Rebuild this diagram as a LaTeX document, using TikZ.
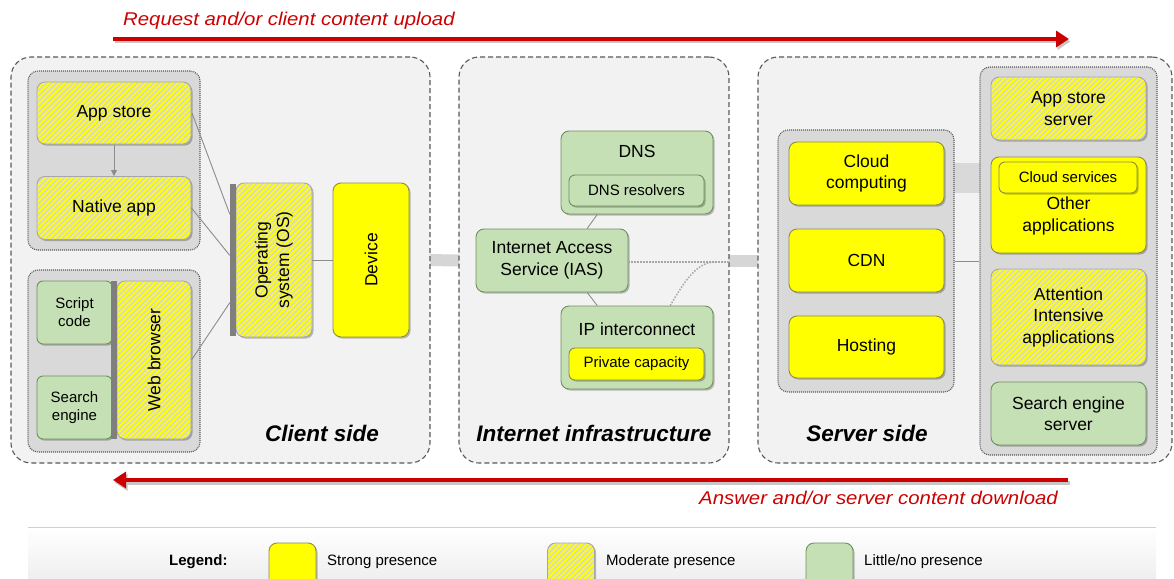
\documentclass[tikz,border=0pt]{standalone}
\usepackage{fontspec}
\setmainfont{Liberation Sans}
\newfontfamily\arrowfont{Liberation Sans}[FakeStretch=1.1]
\usetikzlibrary{arrows.meta,shadows,patterns.meta,calc}
\definecolor{ylw}{HTML}{FFFF00}
\definecolor{ylwb}{HTML}{8C8C46}
\definecolor{grn}{HTML}{C5E0B4}
\definecolor{grnb}{HTML}{70905E}
\definecolor{hbg}{HTML}{D6D6D6}
\definecolor{hbd}{HTML}{A6A6A6}
\definecolor{panelbg}{HTML}{F2F2F2}
\definecolor{grpbg}{HTML}{D9D9D9}
\definecolor{bord}{HTML}{595959}
\definecolor{bandc}{HTML}{D6D6D6}
\definecolor{redc}{HTML}{CC0000}
\definecolor{linec}{HTML}{8C8C8C}
\definecolor{barc}{HTML}{7F7F7F}
\definecolor{dotc}{HTML}{A6A6A6}
\definecolor{legline}{HTML}{D0D0D0}
\definecolor{legbg}{HTML}{EFEFEF}
\pgfdeclarelayer{bandl}
\pgfdeclarelayer{panell}
\pgfdeclarelayer{groupl}
\pgfsetlayers{bandl,panell,groupl,main}
\tikzset{
  base/.style={rounded corners=8pt, inner sep=0pt, align=center,
    font=\fontsize{17.5}{21.5}\selectfont,
    drop shadow={shadow xshift=1.6pt, shadow yshift=-1.6pt, fill=black, opacity=0.25}},
  strong/.style={base, fill=ylw, draw=ylwb, line width=0.9pt},
  moderate/.style={base, draw=hbd, line width=0.9pt, preaction={fill=hbg},
    pattern={Lines[angle=45,distance=3.8pt,line width=2pt]}, pattern color=ylw},
  little/.style={base, fill=grn, draw=grnb, line width=0.9pt},
  small/.style={font=\fontsize{15}{18}\selectfont, rounded corners=6pt},
  lbl/.style={font=\fontsize{17.5}{21.5}\selectfont, align=center, inner sep=0pt},
  panel/.style={draw=bord, dash pattern=on 5pt off 3pt, fill=panelbg, rounded corners=20pt, line width=1.1pt, inner sep=0pt},
  group/.style={draw=bord, dash pattern=on 1pt off 1pt, line width=1.1pt, fill=grpbg, rounded corners=10pt, inner sep=0pt},
  conn/.style={draw=linec, line width=0.9pt},
  band/.style={draw=bandc, line width=12pt},
  bar/.style={fill=barc, draw=none, inner sep=0pt},
  title/.style={font=\fontsize{22.5}{27}\selectfont\bfseries\itshape, inner sep=0pt},
  dotline/.style={draw=dotc, line width=1.5pt, dash pattern=on 1.5pt off 1.5pt},
  redarrow/.style={draw=redc, line width=4pt, -{Triangle[length=13pt,width=16pt]}},
  redshadow/.style={draw=black!22, line width=4pt, -{Triangle[length=13pt,width=16pt]},
    transform canvas={xshift=1.5pt, yshift=-2.5pt}},
  arrowlbl/.style={font=\fontsize{18.5}{22}\arrowfont\itshape, text=redc, inner sep=0pt},
  legtxt/.style={font=\fontsize{15}{18}\selectfont, inner sep=0pt, anchor=west},
}
\begin{document}
\begin{tikzpicture}[x=1pt,y=-1pt]
\useasboundingbox (0,0) rectangle (1174,578);
\clip (0,0) rectangle (1174,578);

% ---------- client side ----------
\node[moderate, minimum width=154pt, minimum height=62pt] (appstore) at (114,113) {App store};
\node[moderate, minimum width=154pt, minimum height=63pt] (nativeapp) at (114,208) {Native app};
\node[little, small, minimum width=75pt, minimum height=63pt] (script) at (74.5,312.5) {Script\\code};
\node[little, small, minimum width=75pt, minimum height=63pt] (search) at (74.5,407.5) {Search\\engine};
\node[moderate, minimum width=74pt, minimum height=158pt] (webbrowser) at (154,360) {\rotatebox{90}{Web browser}};
\node[bar, minimum width=6pt, minimum height=158pt] (wbbar) at (114,360) {};
\node[moderate, minimum width=76pt, minimum height=154pt] (os) at (274,260)
  {\rotatebox{90}{\begin{tabular}{@{}c@{}}Operating\\system (OS)\end{tabular}}};
\node[bar, minimum width=6pt, minimum height=152pt] (osbar) at (233,260) {};
\node[strong, minimum width=76pt, minimum height=154pt] (device) at (371,260) {\rotatebox{90}{Device}};
\node[title] (clienttitle) at (322,433) {Client side};

% ---------- internet infrastructure ----------
\node[little, minimum width=152pt, minimum height=83pt,
  label={[lbl, anchor=center, yshift=-21pt]north:DNS}] (dns) at (637,172.5) {};
\node[little, small, minimum width=135pt, minimum height=31pt] (dnsres) at (636.5,190.5) {DNS resolvers};
\node[little, minimum width=152pt, minimum height=63pt] (ias) at (552,260.5) {Internet Access\\Service (IAS)};
\node[little, minimum width=152pt, minimum height=83pt,
  label={[lbl, anchor=center, yshift=-24pt]north:IP interconnect}] (ipx) at (637,347.5) {};
\node[strong, small, minimum width=135pt, minimum height=32pt] (private) at (636.5,364) {Private capacity};
\node[title] (inettitle) at (594,433) {Internet infrastructure};

% ---------- server side ----------
\node[strong, minimum width=155pt, minimum height=63pt] (cloud) at (866.5,173.5) {Cloud\\computing};
\node[strong, minimum width=155pt, minimum height=63pt] (cdn) at (866.5,260.5) {CDN};
\node[strong, minimum width=155pt, minimum height=62pt] (hosting) at (866.5,347) {Hosting};
\node[moderate, minimum width=155pt, minimum height=63pt] (appserver) at (1068.5,108.5) {App store\\server};
\node[strong, minimum width=155pt, minimum height=96pt,
  label={[lbl, anchor=center, yshift=-11pt]center:Other\\applications}] (otherapps) at (1068.5,205) {};
\node[strong, small, minimum width=138pt, minimum height=31pt] (cloudsvc) at (1068,177.5) {Cloud services};
\node[moderate, minimum width=155pt, minimum height=96pt] (attention) at (1068.5,317) {Attention\\Intensive\\applications};
\node[little, minimum width=155pt, minimum height=63pt] (searchsrv) at (1068.5,413.5) {Search engine\\server};
\node[title] (servertitle) at (867,433) {Server side};

% ---------- panels and groups ----------
\begin{pgfonlayer}{panell}
  \node[panel, minimum width=419pt, minimum height=406pt] (clientpanel) at (220.5,260) {};
  \node[panel, minimum width=270pt, minimum height=406pt] (inetpanel) at (594,260) {};
  \node[panel, minimum width=414pt, minimum height=406pt] (serverpanel) at (965,260) {};
  \draw[draw=grpbg, line width=30pt] (cloud.east |- cloudsvc.center) -- (otherapps.west |- cloudsvc.center);
\end{pgfonlayer}
\begin{pgfonlayer}{groupl}
  \node[group, minimum width=172pt, minimum height=179pt] (grp1) at (114,160.5) {};
  \node[group, minimum width=172pt, minimum height=182pt] (grp2) at (114,361) {};
  \node[group, minimum width=176pt, minimum height=262pt] (grpL) at (866,261) {};
  \node[group, minimum width=177pt, minimum height=388pt] (grpR) at (1068.5,261) {};
\end{pgfonlayer}
\begin{pgfonlayer}{bandl}
  \draw[band] (device.east) -- (ias.west);
  \draw[band] (ias.east) -- (cdn.west);
\end{pgfonlayer}

% ---------- connectors ----------
\draw[conn] (appstore.east) -- ($(osbar.north west)!0.2!(osbar.south west)$);
\draw[conn] (nativeapp.east) -- ($(osbar.north west)!0.47!(osbar.south west)$);
\draw[conn] (webbrowser.east) -- ($(osbar.north west)!0.78!(osbar.south west)$);
\draw[conn, -{Triangle[length=6pt,width=6pt]}] (appstore.south) -- (nativeapp.north);
\draw[conn] (os.east) -- (device.west);
\draw[conn] ($(dns.south west)!0.24!(dns.south east)$) -- ($(ias.north west)!0.73!(ias.north east)$);
\draw[conn] ($(ias.south west)!0.73!(ias.south east)$) -- ($(ipx.north west)!0.24!(ipx.north east)$);
\coordinate (inetout) at (729,262);
\draw[dotline] (ias.east |- inetout) -- (inetout);
\draw[dotline] ($(ipx.north west)!0.717!(ipx.north east)$) .. controls (682,286) and (695,262) .. (715,262);
\draw[conn] (grpL.east) -- (grpR.west);

% ---------- red arrows ----------
\coordinate (upL) at (113,39);
\coordinate (upR) at (1069,39);
\coordinate (dnR) at (1068,480);
\coordinate (dnL) at (113,480);
\draw[redshadow] (upL) -- (upR);
\draw[redshadow] (dnR) -- (dnL);
\draw[redarrow] (upL) -- (upR);
\draw[redarrow] (dnR) -- (dnL);
\node[arrowlbl, anchor=west] (req) at (123,21) {Request and/or client content upload};
\node[arrowlbl, anchor=east] (ans) at (1058,498) {Answer and/or server content download};

% ---------- legend ----------
\shade[top color=white, bottom color=legbg] (28,528) rectangle (1156,578);
\draw[draw=legline, line width=0.8pt] (28,527) -- (1156,527);
\node[legtxt, font=\fontsize{15}{18}\selectfont\bfseries] (legend) at (169,562) {Legend:};
\node[strong, minimum width=47pt, minimum height=44pt] (lgs) at (292.5,565) {};
\node[legtxt] (lgst) at (327,562) {Strong presence};
\node[moderate, minimum width=47pt, minimum height=44pt] (lgm) at (571,565) {};
\node[legtxt] (lgmt) at (606,562) {Moderate presence};
\node[little, minimum width=47pt, minimum height=44pt] (lgl) at (829.5,565) {};
\node[legtxt] (lglt) at (864,562) {Little/no presence};
\end{tikzpicture}
\end{document}
